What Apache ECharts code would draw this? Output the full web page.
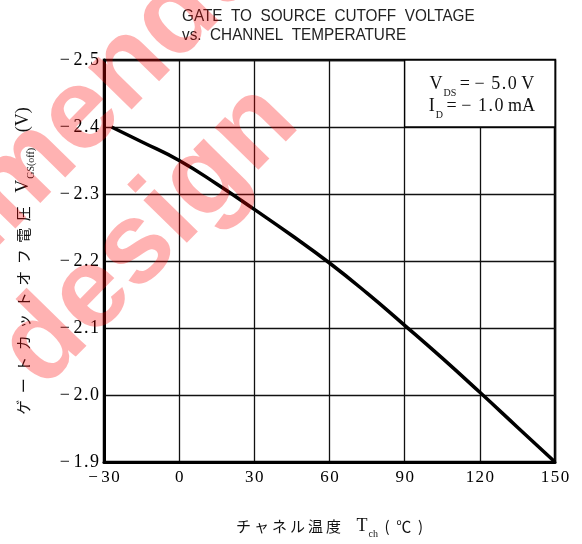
<!DOCTYPE html>
<html><head><meta charset="utf-8">
<script src="https://cdn.jsdelivr.net/npm/echarts@6/dist/echarts.min.js"></script>
<style>html,body{margin:0;padding:0;background:#fff}#c{width:582px;height:544px}</style>
</head><body><div id="c"></div>
<script>
// ---- data ----
const temps = [-27, -15, 0, 15, 30, 45, 60, 75, 90, 105, 120, 135, 150];
const vgsOff = [-2.400, -2.378, -2.350, -2.315, -2.277, -2.238, -2.197, -2.152, -2.104, -2.055, -2.004, -1.952, -1.900];
const xTickValues = [-30, 0, 30, 60, 90, 120, 150];
const yTickValues = [-2.5, -2.4, -2.3, -2.2, -2.1, -2.0, -1.9];
const noteBox = [[90, -2.5], [150, -2.4]];
const noteLines = [['V', 'DS', '−5.0', 'V'], ['I', 'D', '−1.0', 'mA']];
const titleLines = ['GATE  TO  SOURCE  CUTOFF  VOLTAGE', 'vs.  CHANNEL  TEMPERATURE'];
const yNameJa = 'ゲートカットオフ電圧';
const xNameJa = 'チャネル温度';
const watermarkLines = ['Not recommended for new', 'design'];

const SERIF = "'Liberation Serif','DejaVu Serif',serif";
const CJK = "'Noto Sans CJK JP','Noto Sans CJK SC',sans-serif";
const minus = '\u2212';
function spaceChars(s, sp) { return s.split('').join(sp); }
function fmtNum(v, dec) {
  const a = spaceChars(Math.abs(v).toFixed(dec), '\u200A');
  return v < 0 ? minus + '\u2009' + a : a;
}
function spacedJa(s, gap) {
  return s.split('').map(c => '{j|' + c + '}').join('{' + gap + '| }');
}

const chart = echarts.init(document.getElementById('c'), null, {renderer: 'canvas'});
const noteText = noteLines.map(p => {
  const num = p[2].replace(minus, minus + '\u2009');
  return '{v|' + p[0] + '}{sub|' + p[1] + '}{v|\u2009= ' + spaceChars(num, '\u200A') + ' ' + p[3] + '}';
}).join('\n');

const nameRich = {
  j: {fontFamily: CJK, fontSize: 15, color: '#111'},
  g: {width: 6.5, fontSize: 8},
  gx: {width: 3, fontSize: 8},
  s: {fontSize: 8},
  v: {fontFamily: SERIF, fontSize: 18, color: '#111'},
  sub: {fontFamily: SERIF, fontSize: 10, color: '#111', verticalAlign: 'bottom', padding: [0, 0, -4, 1]}
};

const option = {
  animation: false,
  backgroundColor: '#fff',
  grid: {left: 104, right: 27, top: 60, bottom: 81, show: true, borderColor: '#000', borderWidth: 2.5, backgroundColor: 'transparent'},
  xAxis: {
    type: 'value', min: xTickValues[0], max: xTickValues[xTickValues.length - 1], interval: 30,
    axisLine: {show: true, onZero: false, lineStyle: {color: '#000', width: 3}},
    axisTick: {show: false},
    splitLine: {show: true, lineStyle: {color: '#111', width: 1.3}},
    axisLabel: {color: '#000', fontFamily: SERIF, fontSize: 17, margin: 7, formatter: v => fmtNum(v, 0)},
    name: spacedJa(xNameJa, 'gx') + '{s|       }{v|T}{sub|ch}{s|   }{j|(}{s|   }{j|℃}{s|   }{j|)}',
    nameLocation: 'middle', nameGap: 55,
    nameTextStyle: {rich: nameRich}
  },
  yAxis: {
    type: 'value', inverse: true, min: yTickValues[0], max: yTickValues[yTickValues.length - 1], interval: 0.1,
    axisLine: {show: true, onZero: false, lineStyle: {color: '#000', width: 3}},
    axisTick: {show: false},
    splitLine: {show: true, lineStyle: {color: '#111', width: 1.3}},
    axisLabel: {color: '#000', fontFamily: SERIF, fontSize: 18, margin: 5, formatter: v => fmtNum(v, 1)},
    name: spacedJa(yNameJa, 'g') + '{s|      }{v|V}{sub|GS(off)}{s|       }{v|(V)}',
    nameLocation: 'middle', nameRotate: 90, nameGap: 72,
    nameTextStyle: {rich: nameRich}
  },
  series: [{
    type: 'line', smooth: true, symbol: 'none',
    data: temps.map((t, i) => [t, vgsOff[i]]),
    lineStyle: {color: '#000', width: 3.5},
    z: 3,
    markArea: {
      silent: true,
      itemStyle: {color: '#fff', borderColor: '#000', borderWidth: 1.3},
      label: {
        show: true, position: 'inside', color: '#111', lineHeight: 22, offset: [2, 2],
        formatter: noteText,
        rich: {
          v: {fontFamily: SERIF, fontSize: 18, color: '#111', lineHeight: 22},
          sub: {fontFamily: SERIF, fontSize: 10, color: '#111', verticalAlign: 'bottom', lineHeight: 22, padding: [0, 0, -3, 1]}
        }
      },
      data: [[{coord: noteBox[0]}, {coord: noteBox[1]}]]
    }
  }],
  graphic: titleLines.map((t, i) => ({
    type: 'text', z: 50, silent: true,
    x: 182, y: i === 0 ? 8 : 27, scaleX: 0.9,
    style: {text: t, font: "17px 'Liberation Sans',Arial,sans-serif", fill: '#222', textAlign: 'left', textVerticalAlign: 'top', align: 'left', verticalAlign: 'top'}
  })).concat(watermarkLines.map((t, i) => ({
    type: 'text', z: 100, silent: true,
    x: i === 0 ? 603 : 279, y: i === 0 ? -419 : 103,
    rotation: 45.7 * Math.PI / 180,
    style: {
      text: t, font: "bold 115px 'Liberation Sans',Arial,sans-serif",
      fill: 'rgba(255,0,0,0.3)', textAlign: 'right', textVerticalAlign: 'middle', align: 'right', verticalAlign: 'middle'
    }
  })))
};
chart.setOption(option);
</script></body></html>
